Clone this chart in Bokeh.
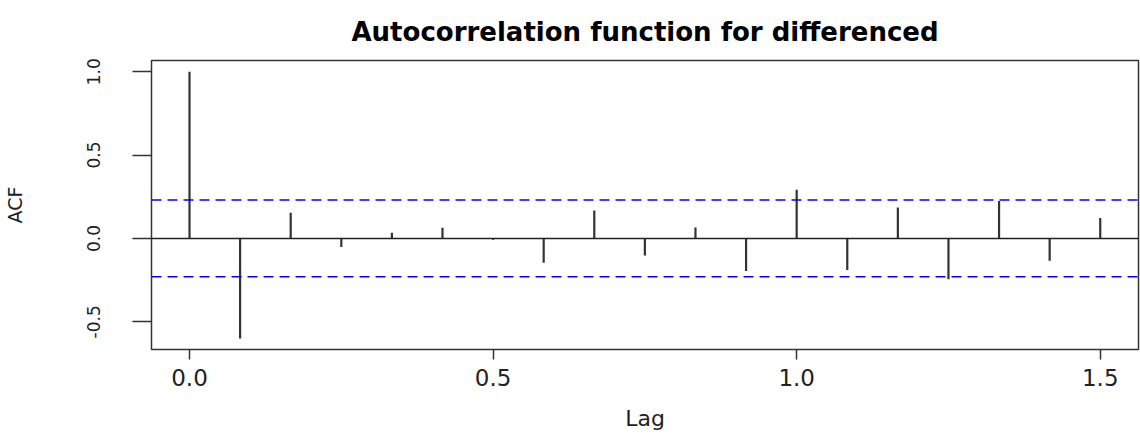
from bokeh.plotting import figure
from bokeh.models import Range1d, Span, FixedTicker, NumeralTickFormatter, ColumnDataSource
from bokeh.embed import file_html
from bokeh.resources import INLINE

# Sample autocorrelations of the differenced monthly series (frequency 12)
lag_months = [0, 1, 2, 3, 4, 5, 6, 7, 8, 9, 10, 11, 12, 13, 14, 15, 16, 17, 18]
acf_values = [1.0, -0.600, 0.154, -0.052, 0.034, 0.064, -0.008, -0.146, 0.168,
              -0.102, 0.066, -0.195, 0.292, -0.189, 0.186, -0.245, 0.224,
              -0.134, 0.122]
frequency = 12
conf_limit = 0.23  # approximate 95% white-noise bound

x_ticks = [0.0, 0.5, 1.0, 1.5]
y_ticks = [-0.5, 0.0, 0.5, 1.0]
title_text = "Autocorrelation function for differenced"

lags = [m / frequency for m in lag_months]
source = ColumnDataSource(dict(lag=lags, acf=acf_values, base=[0.0] * len(lags)))

FONT = "DejaVu Sans"
X_MIN, X_MAX = -0.0626, 1.563
Y_MIN, Y_MAX = -0.666, 1.067

p = figure(
    width=1140, height=434,
    output_backend="svg", toolbar_location=None,
    x_range=Range1d(X_MIN, X_MAX), y_range=Range1d(Y_MIN, Y_MAX),
    min_border_left=151, min_border_right=2, min_border_top=60, min_border_bottom=85,
    title=title_text,
)
p.background_fill_color = "white"
p.border_fill_color = "white"
p.outline_line_color = "#333333"
p.outline_line_width = 1.5
p.grid.visible = False

p.title.align = "center"
p.title.text_font = FONT
p.title.text_font_size = "26px"
p.title.text_font_style = "bold"
p.title.text_color = "black"
p.title.standoff = 28

for ax in (p.xaxis[0], p.yaxis[0]):
    ax.axis_line_color = None
    ax.major_tick_in = 0
    ax.major_tick_line_color = "#333333"
    ax.major_tick_line_width = 1.5
    ax.minor_tick_line_color = None
    ax.major_label_text_font = FONT
    ax.major_label_text_color = "#222222"
    ax.axis_label_text_font = FONT
    ax.axis_label_text_font_style = "normal"
    ax.axis_label_text_color = "#222222"
    ax.formatter = NumeralTickFormatter(format="0.0")

p.xaxis.ticker = FixedTicker(ticks=x_ticks)
p.xaxis.major_tick_out = 10
p.xaxis.major_label_text_font_size = "23px"
p.xaxis.major_label_standoff = 9
p.xaxis.axis_label = "Lag"
p.xaxis.axis_label_text_font_size = "22px"
p.xaxis.axis_label_standoff = 17

p.yaxis.ticker = FixedTicker(ticks=y_ticks)
p.yaxis.major_tick_out = 19
p.yaxis.major_label_orientation = "vertical"
p.yaxis.major_label_text_font_size = "17px"
p.yaxis.major_label_standoff = 32
p.yaxis.axis_label = "ACF"
p.yaxis.axis_label_text_font_size = "19px"
p.yaxis.axis_label_standoff = 59

# zero line and confidence bounds
p.add_layout(Span(location=0, dimension="width", line_color="#222222", line_width=1.5))
for lim in (conf_limit, -conf_limit):
    p.add_layout(Span(location=lim, dimension="width", line_color="#0000ff",
                      line_width=1.5, line_dash="10 6"))

p.segment(x0="lag", y0="base", x1="lag", y1="acf", source=source,
          line_color="#333333", line_width=2.2)

open("out.html", "w").write(file_html(p, INLINE))
